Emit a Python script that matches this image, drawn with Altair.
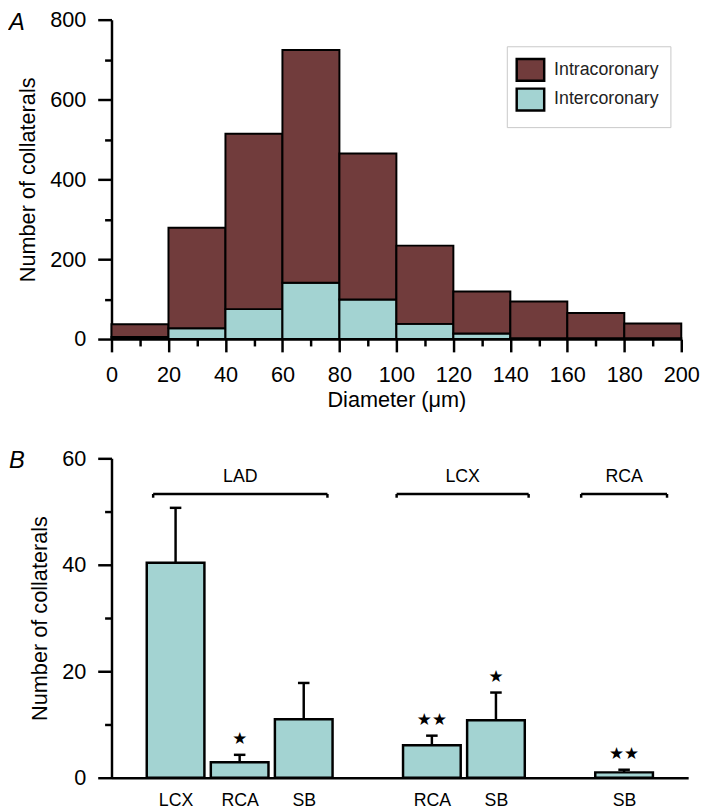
import altair as alt
import pandas as pd

FONT = "Liberation Sans"

# ---------------- Panel A data ----------------
bin_edges = [0, 20, 40, 60, 80, 100, 120, 140, 160, 180, 200]
intracoronary = [32, 252, 439, 583, 366, 196, 105, 92, 63, 37]
intercoronary = [5, 27, 75, 141, 99, 38, 14, 2, 2, 2]
series_names = ["Intracoronary", "Intercoronary"]
series_colors = ["#713c3c", "#a3d3d2"]

# ---------------- Panel B data ----------------
source_artery = ["LAD", "LAD", "LAD", "LCX", "LCX", "RCA"]
target_artery = ["LCX", "RCA", "SB", "RCA", "SB", "SB"]
slot = [0, 1, 2, 4, 5, 7]
mean_count = [40.4, 2.9, 11.0, 6.1, 10.8, 1.0]
sem_count = [10.3, 1.4, 6.8, 1.8, 5.2, 0.5]
significance = ["", "★", "", "★★", "★", "★★"]

bracket_labels = ["LAD", "LCX", "RCA"]
bracket_start = [-0.35, 3.45, 6.33]
bracket_end = [2.37, 5.51, 7.67]
bracket_level = 53.3

# ---------------- Panel A ----------------
rows = []
for i in range(len(intracoronary)):
    rows.append({"start": bin_edges[i], "end": bin_edges[i + 1], "series": "Intercoronary",
                 "lo": 0, "hi": intercoronary[i]})
    rows.append({"start": bin_edges[i], "end": bin_edges[i + 1], "series": "Intracoronary",
                 "lo": intercoronary[i], "hi": intercoronary[i] + intracoronary[i]})
df_a = pd.DataFrame(rows)

x_axis_a = alt.Axis(
    values=list(range(0, 201, 10)),
    labelExpr="datum.value % 20 === 0 ? datum.label : ''",
    tickSize={"condition": {"test": "datum.value % 20 === 0", "value": 13}, "value": 7},
    labelPadding=13, labelFlush=False, labelOverlap=False,
    title="Diameter (μm)", titlePadding=4,
)
y_axis_a = alt.Axis(
    values=list(range(0, 801, 100)),
    labelExpr="datum.value % 200 === 0 ? datum.label : ''",
    tickSize={"condition": {"test": "datum.value % 200 === 0", "value": 14}, "value": 7},
    labelPadding=12, labelOverlap=False,
    title="Number of collaterals", titlePadding=10,
)

bars_a = alt.Chart(df_a).mark_bar(stroke="black", strokeWidth=2, opacity=1).encode(
    x=alt.X("start:Q", scale=alt.Scale(domain=[0, 200], nice=False), axis=x_axis_a),
    x2="end:Q",
    y=alt.Y("hi:Q", scale=alt.Scale(domain=[0, 800], nice=False), axis=y_axis_a),
    y2="lo:Q",
    color=alt.Color(
        "series:N",
        scale=alt.Scale(domain=series_names, range=series_colors),
        legend=alt.Legend(
            title=None, orient="none", legendX=401, legendY=27,
            fillColor="white", strokeColor="#c8c8c8", padding=11,
            symbolType="M-1.2,-0.95H1.2V0.95H-1.2Z", symbolSize=540,
            symbolStrokeColor="black", symbolStrokeWidth=2.5, symbolOpacity=1,
            labelFont=FONT, labelFontSize=18, labelColor="#222222", labelOffset=11,
            rowPadding=-8,
        ),
    ),
)

letter_a = alt.Chart(pd.DataFrame({"t": ["A"]})).mark_text(
    font=FONT, fontSize=24, fontStyle="italic", align="left", baseline="top"
).encode(text="t:N", x=alt.value(-104), y=alt.value(-9))

chart_a = alt.layer(bars_a, letter_a).properties(width=578, height=324)

# ---------------- Panel B ----------------
df_b = pd.DataFrame({
    "source": source_artery, "target": target_artery, "slot": slot,
    "mean": mean_count, "sem": sem_count, "sig": significance,
})
df_br = pd.DataFrame({"label": bracket_labels, "x0": bracket_start, "x1": bracket_end})
df_br["level"] = bracket_level

label_expr_b = ""
for s, t in zip(slot, target_artery):
    label_expr_b += f"datum.value === {s} ? '{t}' : "
label_expr_b += "''"

x_scale_b = alt.Scale(domain=[-1, 8], nice=False, zero=False)
y_scale_b = alt.Scale(domain=[0, 60], nice=False)

x_axis_b = alt.Axis(values=slot, labelExpr=label_expr_b, ticks=False, labelPadding=14,
                    labelFontSize=18, labelFlush=False, labelOverlap=False, title=None)
y_axis_b = alt.Axis(
    values=list(range(0, 61, 10)),
    labelExpr="datum.value % 20 === 0 ? datum.label : ''",
    tickSize={"condition": {"test": "datum.value % 20 === 0", "value": 14}, "value": 7},
    labelPadding=12, labelOverlap=False,
    title="Number of collaterals", titlePadding=10,
)

base_b = alt.Chart(df_b).transform_calculate(
    lo="datum.slot - 0.45", hi="datum.slot + 0.45",
    upper="datum.mean + datum.sem",
    c0="datum.slot - 0.09", c1="datum.slot + 0.09",
)

bars_b = base_b.mark_rect(fill="#a3d3d2", stroke="black", strokeWidth=2.5).encode(
    x=alt.X("lo:Q", scale=x_scale_b, axis=x_axis_b),
    x2="hi:Q",
    y=alt.Y("mean:Q", scale=y_scale_b, axis=y_axis_b),
    y2=alt.datum(0),
)
err_b = base_b.mark_rule(color="black", strokeWidth=2.5).encode(
    x=alt.X("slot:Q", scale=x_scale_b), y=alt.Y("mean:Q", scale=y_scale_b), y2="upper:Q"
)
cap_b = base_b.mark_rule(color="black", strokeWidth=2.5).encode(
    x=alt.X("c0:Q", scale=x_scale_b), x2="c1:Q", y=alt.Y("upper:Q", scale=y_scale_b)
)
stars_b = base_b.mark_text(font="DejaVu Sans", fontSize=17, baseline="middle", dy=-16,
                           color="black").encode(
    x=alt.X("slot:Q", scale=x_scale_b), y=alt.Y("upper:Q", scale=y_scale_b), text="sig:N"
)

br_base = alt.Chart(df_br).transform_calculate(
    mid="(datum.x0 + datum.x1) / 2", drop="datum.level - 0.7"
)
br_h = br_base.mark_rule(color="black", strokeWidth=2.5).encode(
    x=alt.X("x0:Q", scale=x_scale_b), x2="x1:Q", y=alt.Y("level:Q", scale=y_scale_b)
)
br_l = br_base.mark_rule(color="black", strokeWidth=2.5).encode(
    x=alt.X("x0:Q", scale=x_scale_b), y=alt.Y("level:Q", scale=y_scale_b), y2="drop:Q"
)
br_r = br_base.mark_rule(color="black", strokeWidth=2.5).encode(
    x=alt.X("x1:Q", scale=x_scale_b), y=alt.Y("level:Q", scale=y_scale_b), y2="drop:Q"
)
br_t = br_base.mark_text(font=FONT, fontSize=18, baseline="middle", dy=-17, color="black").encode(
    x=alt.X("mid:Q", scale=x_scale_b), y=alt.Y("level:Q", scale=y_scale_b), text="label:N"
)

letter_b = alt.Chart(pd.DataFrame({"t": ["B"]})).mark_text(
    font=FONT, fontSize=24, fontStyle="italic", align="left", baseline="top"
).encode(text="t:N", x=alt.value(-104), y=alt.value(-9))

chart_b = alt.layer(bars_b, err_b, cap_b, stars_b, br_h, br_l, br_r, br_t, letter_b).properties(
    width=585, height=324
)

chart = alt.vconcat(chart_a, chart_b, spacing=36).properties(
    padding={"top": -6, "left": 0, "right": 0, "bottom": 0}
).configure_axis(
    domainColor="black", domainWidth=2.5, tickColor="black", tickWidth=2.5,
    labelColor="black", titleColor="black", labelFont=FONT, titleFont=FONT,
    labelFontSize=22, titleFontSize=22, titleFontWeight="normal", grid=False,
).configure_view(stroke="transparent")

chart.save("out.html", embed_options={"renderer": "svg", "actions": False})
